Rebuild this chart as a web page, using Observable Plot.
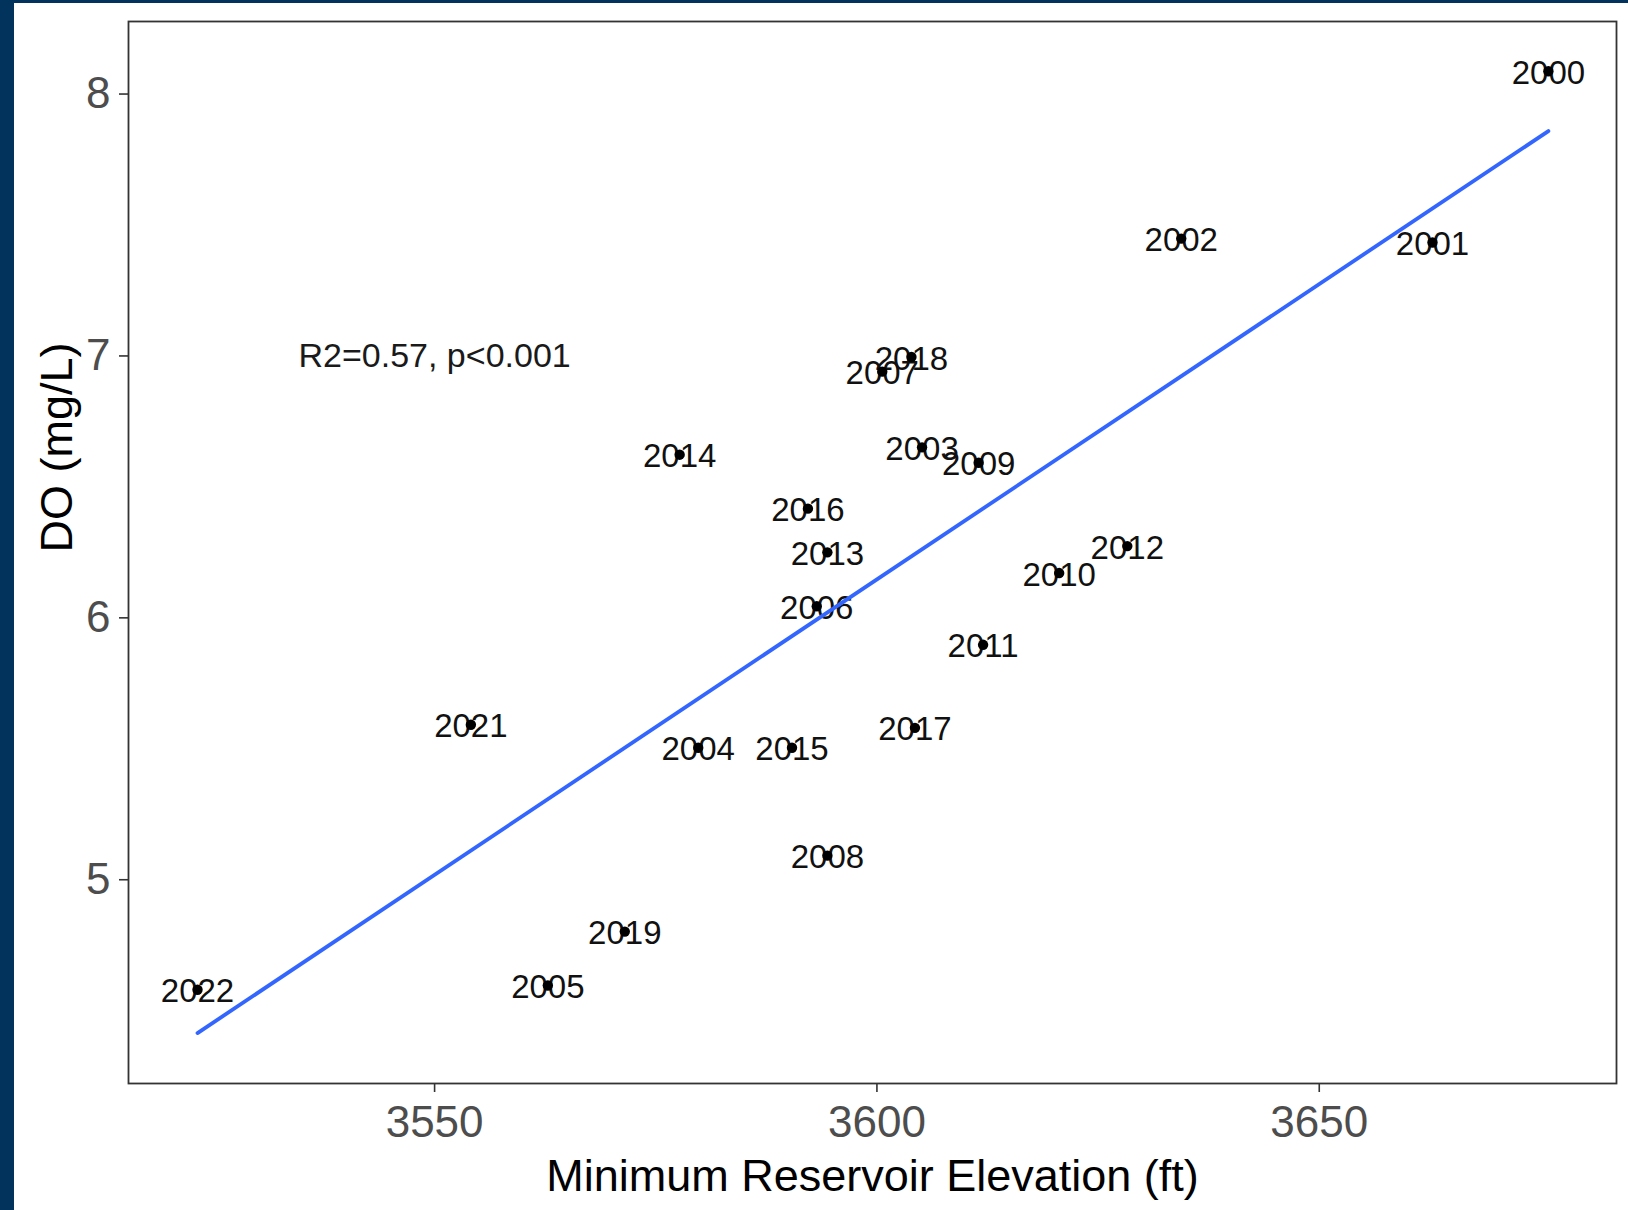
<!DOCTYPE html>
<html><head><meta charset="utf-8">
<script src="https://cdn.jsdelivr.net/npm/d3@7"></script>
<script src="https://cdn.jsdelivr.net/npm/@observablehq/plot@0.6"></script>
<style>
html,body{margin:0;padding:0;background:#02335c;overflow:hidden;width:1628px;height:1210px;}
#chart{position:absolute;left:14px;top:3px;width:1614px;height:1207px;background:#fff;}
</style></head><body><div id="chart"></div>
<script>
// Year of each observation
const years = [2000, 2001, 2002, 2003, 2004, 2005, 2006, 2007, 2008, 2009, 2010,
               2011, 2012, 2013, 2014, 2015, 2016, 2017, 2018, 2019, 2021, 2022];
// Minimum reservoir elevation (ft)
const elevation = [3675.9, 3662.8, 3634.4, 3605.1, 3579.8, 3562.8, 3593.2, 3600.6, 3594.4, 3611.5, 3620.6,
                   3612.0, 3628.3, 3594.4, 3577.7, 3590.4, 3592.2, 3604.3, 3603.9, 3571.5, 3554.1, 3523.2];
// Dissolved oxygen (mg/L)
const dissolvedOxygen = [8.087, 7.433, 7.448, 6.651, 5.504, 4.596, 6.044, 6.94, 5.092, 6.592, 6.171,
                         5.897, 6.274, 6.250, 6.623, 5.504, 6.417, 5.580, 6.996, 4.802, 5.592, 4.580];

const xTicks = [3550, 3600, 3650];
const yTicks = [5, 6, 7, 8];
const xDomain = [3515.4, 3683.6];
const yDomain = [4.222, 8.277];

const annotationText = ["R2=0.57, p<0.001"];
const annotationX = [3550];
const annotationY = [7];

const xTitle = "Minimum Reservoir Elevation (ft)";
const yTitle = "DO (mg/L)";

const data = years.map((yr, i) => ({label: String(yr), x: elevation[i], y: dissolvedOxygen[i]}));
const notes = annotationText.map((t, i) => ({t, x: annotationX[i], y: annotationY[i]}));

const FONT = "'Liberation Sans', Arial, Helvetica, sans-serif";

const chart = Plot.plot({
  width: 1614,
  height: 1207,
  marginLeft: 114,
  marginRight: 12,
  marginTop: 18,
  marginBottom: 127,
  style: {fontFamily: FONT, background: "#ffffff"},
  x: {domain: xDomain, ticks: xTicks},
  y: {domain: yDomain, ticks: yTicks},
  marks: [
    Plot.axisX({ticks: xTicks, tickFormat: d => String(d), tickSize: 9, tickPadding: 13, fontSize: 44, fill: "#4d4d4d", stroke: "#333", strokeWidth: 1.6, label: null}),
    Plot.axisY({ticks: yTicks, tickFormat: d => String(d), tickSize: 9, tickPadding: 9, fontSize: 44, fill: "#4d4d4d", stroke: "#333", strokeWidth: 1.6, label: null}),
    Plot.text(data, {x: "x", y: "y", text: "label", fontSize: 33, fill: "#111", dy: 2}),
    Plot.dot(data, {x: "x", y: "y", r: 5.2, fill: "#000", stroke: null}),
    Plot.linearRegressionY(data, {x: "x", y: "y", stroke: "#3366FF", strokeWidth: 3.8, ci: 0}),
    Plot.text(notes, {x: "x", y: "y", text: "t", fontSize: 34, fill: "#1a1a1a"}),
    Plot.text([xTitle], {frameAnchor: "bottom", dy: 107, text: d => d, fontSize: 45, fill: "#000"}),
    Plot.text([yTitle], {frameAnchor: "left", dx: -71, rotate: -90, text: d => d, fontSize: 45, fill: "#000"}),
    Plot.frame({stroke: "#333", strokeWidth: 1.8})
  ]
});
document.getElementById("chart").appendChild(chart);
</script>
</body></html>
